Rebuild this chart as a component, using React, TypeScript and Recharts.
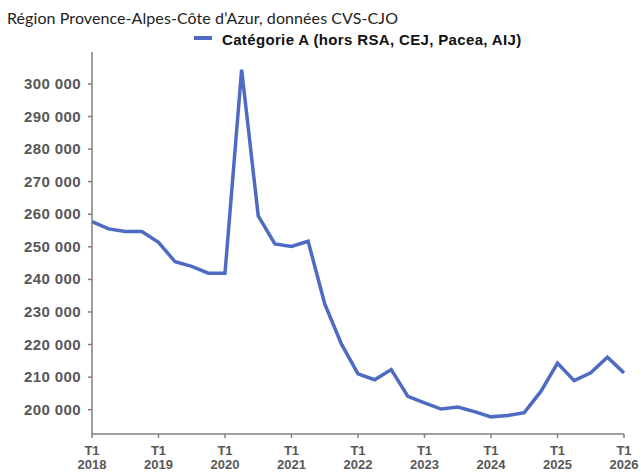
import React from "react";
import { LineChart, Line, XAxis, YAxis, Legend } from "recharts";

const quarters = [
  "2018 T1", "2018 T2", "2018 T3", "2018 T4",
  "2019 T1", "2019 T2", "2019 T3", "2019 T4",
  "2020 T1", "2020 T2", "2020 T3", "2020 T4",
  "2021 T1", "2021 T2", "2021 T3", "2021 T4",
  "2022 T1", "2022 T2", "2022 T3", "2022 T4",
  "2023 T1", "2023 T2", "2023 T3", "2023 T4",
  "2024 T1", "2024 T2", "2024 T3", "2024 T4",
  "2025 T1", "2025 T2", "2025 T3", "2025 T4",
  "2026 T1",
];

const categorieA = [
  257700, 255500, 254700, 254700,
  251400, 245400, 244000, 241900,
  241900, 304400, 259500, 250900,
  250100, 251700, 232500, 220200,
  211000, 209200, 212300, 204100,
  202100, 200200, 200800, 199400,
  197800, 198200, 199100, 205600,
  214300, 208900, 211300, 216100,
  211300,
];

const xTickIndex = [0, 4, 8, 12, 16, 20, 24, 28, 32];
const xTickQuarter = ["T1", "T1", "T1", "T1", "T1", "T1", "T1", "T1", "T1"];
const xTickYear = ["2018", "2019", "2020", "2021", "2022", "2023", "2024", "2025", "2026"];
const yTicks = [200000, 210000, 220000, 230000, 240000, 250000, 260000, 270000, 280000, 290000, 300000];

const seriesName = "Catégorie A (hors RSA, CEJ, Pacea, AIJ)";
const title = "Région Provence-Alpes-Côte d\u2019Azur, données CVS-CJO";

const data = quarters.map((q, i) => ({ idx: i, quarter: q, value: categorieA[i] }));

const LINE_COLOR = "#4e6bc4";
const AXIS_COLOR = "#7f7f7f";
const LABEL_COLOR = "#575757";

const fmt = (v: number) => {
  const s = Math.round(v).toString();
  return s.replace(/\B(?=(\d{3})+(?!\d))/g, " ");
};

const XTick = (props: any) => {
  const { x, y, payload } = props;
  const k = xTickIndex.indexOf(payload.value);
  if (k < 0) return null;
  return (
    <text
      x={x}
      y={y}
      textAnchor="middle"
      fill={LABEL_COLOR}
      fontFamily="'Liberation Sans', Arial, sans-serif"
      fontWeight="bold"
      fontSize={13}
    >
      <tspan x={x} dy={15}>{xTickQuarter[k]}</tspan>
      <tspan x={x} dy={14}>{xTickYear[k]}</tspan>
    </text>
  );
};

const YTick = (props: any) => {
  const { x, y, payload } = props;
  return (
    <text
      x={x}
      y={y}
      dy={5}
      textAnchor="end"
      fill={LABEL_COLOR}
      fontFamily="'Liberation Sans', Arial, sans-serif"
      fontWeight="bold"
      fontSize={15}
      letterSpacing={0.4}
    >
      {fmt(payload.value)}
    </text>
  );
};

const LegendContent = () => (
  <div style={{ display: "flex", alignItems: "center", height: 18 }}>
    <svg width={18} height={18} style={{ display: "block" }}>
      <line x1={0} y1={8} x2={18} y2={8} stroke={LINE_COLOR} strokeWidth={4} />
    </svg>
    <span
      style={{
        marginLeft: 10,
        fontFamily: "'Liberation Sans', Arial, sans-serif",
        fontWeight: "bold",
        fontSize: 15,
        letterSpacing: 0.35,
        color: "#111",
        whiteSpace: "nowrap",
      }}
    >
      {seriesName}
    </span>
  </div>
);

export default function App() {
  return (
    <div style={{ position: "absolute", left: 0, top: 0, width: 641, height: 473, background: "#fff" }}>
      <div
        style={{
          position: "absolute",
          left: 7,
          top: 8,
          fontFamily: "Lato, 'Open Sans', sans-serif",
          fontSize: 16,
          letterSpacing: 0.08,
          color: "#222",
          whiteSpace: "nowrap",
          lineHeight: "20px",
        }}
      >
        {title}
      </div>
      <LineChart
        width={641}
        height={473}
        data={data}
        margin={{ top: 34, right: 17, bottom: 3, left: 12 }}
      >
        <Legend
          verticalAlign="top"
          align="left"
          content={<LegendContent />}
          wrapperStyle={{ left: 194, top: 30, width: 380, height: 18 }}
        />
        <XAxis
          dataKey="idx"
          type="number"
          domain={[0, 32]}
          ticks={xTickIndex}
          interval={0}
          height={36}
          stroke={AXIS_COLOR}
          strokeWidth={1.5}
          tickSize={4}
          tick={<XTick />}
          allowDecimals={false}
        />
        <YAxis
          type="number"
          domain={[192540, 309800]}
          ticks={yTicks}
          interval={0}
          width={80}
          stroke={AXIS_COLOR}
          strokeWidth={1.5}
          tickSize={4}
          tickMargin={7}
          tick={<YTick />}
          allowDataOverflow
        />
        <Line
          type="linear"
          dataKey="value"
          name={seriesName}
          stroke={LINE_COLOR}
          strokeWidth={3.5}
          dot={false}
          activeDot={false}
          isAnimationActive={false}
        />
      </LineChart>
    </div>
  );
}
